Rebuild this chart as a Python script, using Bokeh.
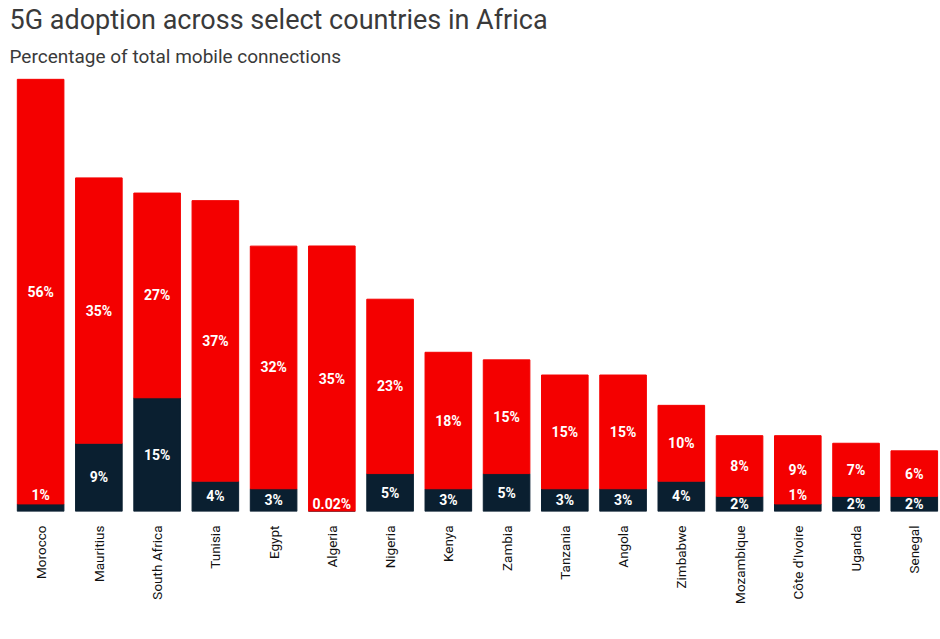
import numpy as np
from bokeh.plotting import figure
from bokeh.models import ColumnDataSource, Range1d, FixedTicker, Title, Legend, LegendItem
from bokeh.core.properties import value
from bokeh.embed import file_html
from bokeh.resources import INLINE

countries = ["Morocco", "Mauritius", "South Africa", "Tunisia", "Egypt", "Algeria",
             "Nigeria", "Kenya", "Zambia", "Tanzania", "Angola", "Zimbabwe",
             "Mozambique", "Côte d'Ivoire", "Uganda", "Senegal"]
adopt_2025 = [1, 9, 15, 4, 3, 0.02, 5, 3, 5, 3, 3, 4, 2, 1, 2, 2]
adopt_2026_2030 = [56, 35, 27, 37, 32, 35, 23, 18, 15, 15, 15, 10, 8, 9, 7, 6]

DARK = "#0a1f30"
RED = "#f40000"
FONT = "Roboto"

x = list(range(len(countries)))
a = np.array(adopt_2025, dtype=float)
b = np.array(adopt_2026_2030, dtype=float)

def dark_label_y(v):
    if v >= 2:
        return v / 2
    if v >= 1:
        return 2.2
    return 1.0

src = ColumnDataSource(dict(
    x=x,
    a=a,
    total=a + b,
    ya=[dark_label_y(v) for v in a],
    yb=a + b / 2,
    la=[f"{v:g}%" for v in adopt_2025],
    lb=[f"{v:g}%" for v in adopt_2026_2030],
))

p = figure(frame_width=929, frame_height=438, output_backend="svg", toolbar_location=None,
           x_range=Range1d(-0.5, 15.45), y_range=Range1d(0, 57.77),
           min_border_left=11, min_border_right=0, min_border_top=0, min_border_bottom=0,
           title=None)

r1 = p.vbar(x="x", bottom=0, top="a", width=0.8, source=src, fill_color=DARK, line_color=DARK)
r2 = p.vbar(x="x", bottom="a", top="total", width=0.8, source=src, fill_color=RED, line_color=RED)

p.text(x="x", y="yb", text="lb", source=src, text_align="center", text_baseline="middle",
       text_color="white", text_font=value(FONT), text_font_style="bold", text_font_size="14px")
p.text(x="x", y="ya", text="la", source=src, text_align="center", text_baseline="middle",
       text_color="white", text_font=value(FONT), text_font_style="bold", text_font_size="14px")

p.add_layout(Title(text="Percentage of total mobile connections", text_font=FONT,
                   text_font_size="19px", text_font_style="normal", text_color="#3a3a3a",
                   align="left", offset=-2, standoff=12), "above")
p.add_layout(Title(text="5G adoption across select countries in Africa", text_font=FONT,
                   text_font_size="27px", text_font_style="normal", text_color="#3a3a3a",
                   align="left", offset=-2, standoff=2), "above")

p.xaxis.ticker = FixedTicker(ticks=x)
p.xaxis.major_label_overrides = {i: c for i, c in zip(x, countries)}
p.xaxis.major_label_orientation = np.pi / 2
p.xaxis.major_label_text_font = FONT
p.xaxis.major_label_text_font_size = "13.5px"
p.xaxis.major_label_text_color = "#111111"
p.xaxis.major_label_standoff = 14
p.xaxis.axis_line_color = None
p.xaxis.major_tick_line_color = None
p.xaxis.minor_tick_line_color = None
p.xaxis.major_tick_out = 0
p.xaxis.major_tick_in = 0
p.yaxis.visible = False
p.xgrid.visible = False
p.ygrid.visible = False
p.outline_line_color = None

legend = Legend(items=[LegendItem(label="2025", renderers=[r1]),
                       LegendItem(label="2026–2030", renderers=[r2])],
                orientation="horizontal", location="top_left",
                glyph_width=17, glyph_height=17, label_standoff=10, spacing=15,
                label_text_font=FONT, label_text_font_size="16px", label_text_color="#1a1a1a",
                padding=0, margin=0, border_line_color=None, background_fill_alpha=0)
p.add_layout(legend, "below")

open("out.html", "w").write(file_html(p, INLINE))
